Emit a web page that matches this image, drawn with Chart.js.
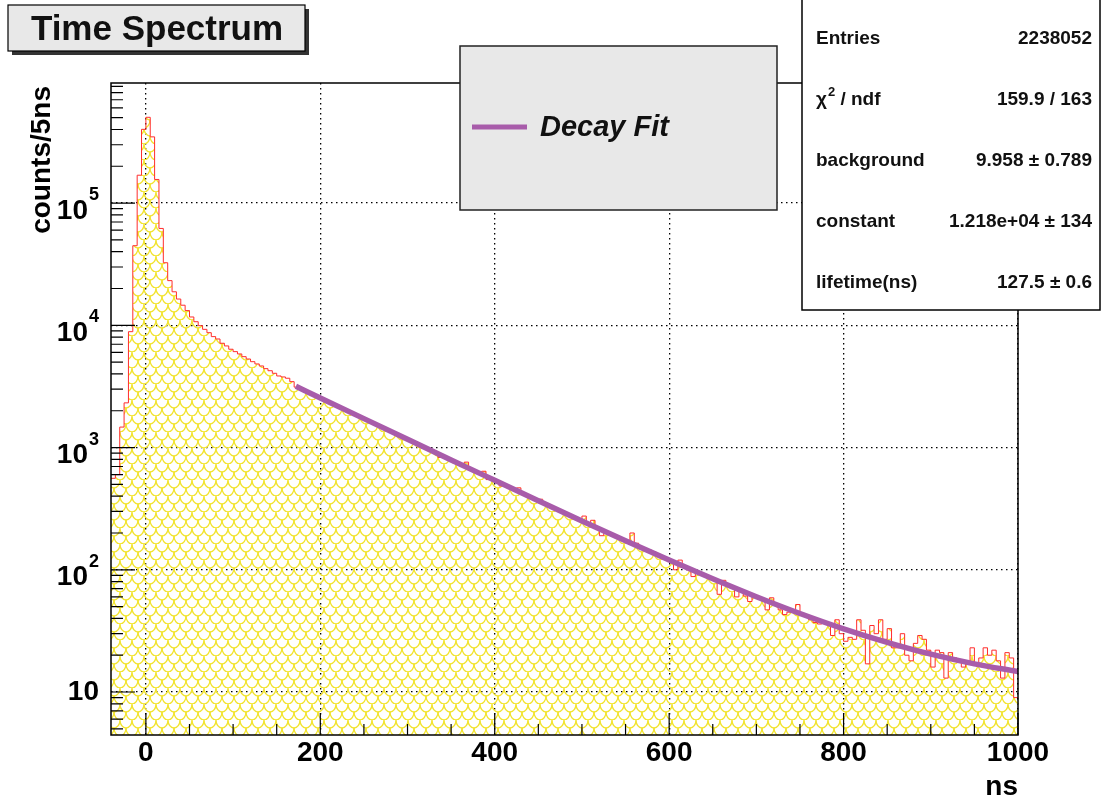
<!DOCTYPE html>
<html>
<head>
<meta charset="utf-8">
<script src="https://cdn.jsdelivr.net/npm/chart.js@4.4.1/dist/chart.umd.min.js"></script>
<style>
  html, body { margin: 0; padding: 0; background: #fff; }
  canvas { display: block; }
</style>
</head>
<body>
<canvas id="timeChart" width="1102" height="800"></canvas>
<script>
// Histogram: 5 ns bins starting at -40 ns (counts)
const BIN_START = -40;
const BIN_WIDTH = 5;
const COUNTS = [
    560, 600, 1470, 2320, 8870, 44800, 169000, 401000, 503000, 348000,
    156000, 62000, 32500, 23200, 18800, 16400, 14600, 13200, 11700, 10700,
    9930, 9270, 8700, 8080, 7730, 7130, 6780, 6370, 6090, 5830,
    5540, 5300, 5040, 4830, 4650, 4420, 4250, 4050, 3850, 3780,
    3690, 3460, 3120, 3010, 2890, 2790, 2680, 2580, 2480, 2390,
    2300, 2210, 2130, 2050, 1970, 1895, 1820, 1750, 1690, 1620,
    1560, 1500, 1445, 1390, 1335, 1285, 1235, 1188, 1143, 1100,
    1058, 1018, 978, 942, 900, 830, 838, 806, 775, 746,
    718, 760, 664, 639, 615, 640, 547, 548, 527, 485,
    488, 470, 460, 468, 418, 403, 388, 373, 378, 346,
    333, 320, 308, 297, 286, 275, 265, 255, 275, 236,
    254, 219, 190, 203, 196, 189, 182, 175, 169, 200,
    165, 151, 146, 145, 140, 134, 126, 121, 117, 100,
    120, 105, 101, 88, 95, 91, 88, 85, 82, 63,
    82, 74, 72, 60, 67, 61, 55, 61, 59, 57,
    47, 59, 52, 47, 43, 45, 46, 52, 44, 43,
    39, 37, 36, 37, 36, 29, 39, 30, 26, 28,
    27, 39, 32, 17, 35, 30, 39, 27, 33, 23,
    23, 30, 20, 18, 25, 29, 27, 22, 16, 22,
    21, 13, 21, 19, 18, 16, 17, 23, 17, 19,
    23, 20, 22, 18, 13, 21, 19, 9
];

// Decay fit curve, sampled off the plot
const FIT_T = [172, 200, 250, 300, 350, 400, 450, 500, 550, 600, 650, 700, 750, 800, 850, 900, 950, 1000];
const FIT_V = [3170, 2547, 1724, 1168, 792, 539, 367, 251, 173, 120, 84.4, 60.2, 43.9, 32.9, 25.5, 20.4, 17.0, 14.7];

const X_TICKS = [0, 200, 400, 600, 800, 1000];
const Y_TICKS = [10, 100, 1000, 10000, 100000];

const STAT_NAMES = ['Entries', 'χ² / ndf', 'background', 'constant', 'lifetime(ns)'];
const STAT_VALUES = ['2238052', '159.9 / 163', '9.958 ± 0.789', '1.218e+04 ± 134', '127.5 ± 0.6'];

const FONT = '"Liberation Sans", Arial, Helvetica, sans-serif';
const FIT_COLOR = 'rgb(168,92,170)';

// yellow fish-scale hatch like ROOT's fill style
function scalePattern(ctx) {
    const c = document.createElement('canvas');
    c.width = 12;
    c.height = 16;
    const g = c.getContext('2d');
    g.strokeStyle = 'rgb(242,228,50)';
    g.lineWidth = 1.4;
    const centers = [[6, 0], [6, 16], [0, 8], [12, 8]];
    centers.forEach(([cx, cy]) => {
        g.beginPath();
        g.ellipse(cx, cy, 6, 8, 0, 0, Math.PI);
        g.stroke();
    });
    return ctx.createPattern(c, 'repeat');
}

// text with "²" drawn as a small raised 2
function drawSupText(ctx, str, x, y, size) {
    const parts = str.split('²');
    let cx = x;
    parts.forEach((p, i) => {
        ctx.font = 'bold ' + size + 'px ' + FONT;
        ctx.fillText(p, cx, y);
        cx += ctx.measureText(p).width;
        if (i < parts.length - 1) {
            ctx.font = 'bold ' + Math.round(size * 0.7) + 'px ' + FONT;
            ctx.fillText('2', cx + 1, y - size * 0.4);
            cx += ctx.measureText('2').width + 1;
        }
    });
}

const rootDecor = {
    id: 'rootDecor',
    beforeDraw(chart) {
        const ctx = chart.ctx;
        ctx.save();
        ctx.fillStyle = '#fff';
        ctx.fillRect(0, 0, chart.width, chart.height);
        ctx.restore();
    },
    afterDatasetsDraw(chart) {
        const {ctx, chartArea: a, scales: {x, y}} = chart;
        ctx.save();
        ctx.strokeStyle = '#000';
        ctx.fillStyle = '#000';

        // frame
        ctx.lineWidth = 1.5;
        ctx.strokeRect(a.left, a.top, a.right - a.left, a.bottom - a.top);

        // x ticks (inside)
        ctx.lineWidth = 1.2;
        ctx.beginPath();
        for (let v = 0; v <= x.max; v += 50) {
            const px = x.getPixelForValue(v);
            const len = v % 200 === 0 ? 22 : 11;
            ctx.moveTo(px, a.bottom);
            ctx.lineTo(px, a.bottom - len);
        }
        // y ticks (inside, log)
        for (let e = 0; e <= 6; e++) {
            for (let m = 1; m <= 9; m++) {
                const v = m * Math.pow(10, e);
                if (v < y.min || v > y.max) continue;
                const py = y.getPixelForValue(v);
                const len = m === 1 ? 24 : 12;
                ctx.moveTo(a.left, py);
                ctx.lineTo(a.left + len, py);
            }
        }
        ctx.stroke();

        // x tick labels
        ctx.font = 'bold 28px ' + FONT;
        ctx.textAlign = 'center';
        ctx.textBaseline = 'middle';
        X_TICKS.forEach(v => ctx.fillText(String(v), x.getPixelForValue(v), 753));
        ctx.textAlign = 'right';
        ctx.fillText('ns', a.right, 787);

        // y tick labels with exponents
        Y_TICKS.forEach(v => {
            const py = y.getPixelForValue(v);
            const ex = Math.round(Math.log10(v));
            if (ex === 1) {
                ctx.font = 'bold 28px ' + FONT;
                ctx.fillText('10', 99, py);
            } else {
                ctx.font = 'bold 18px ' + FONT;
                const w = ctx.measureText(String(ex)).width;
                ctx.fillText(String(ex), 99, py - 8);
                ctx.font = 'bold 28px ' + FONT;
                ctx.fillText('10', 99 - w - 1, py + 8);
            }
        });

        // y title
        ctx.save();
        ctx.translate(42, 86);
        ctx.rotate(-Math.PI / 2);
        ctx.font = 'bold 28px ' + FONT;
        ctx.textAlign = 'right';
        ctx.textBaseline = 'middle';
        ctx.fillText('counts/5ns', 0, 0);
        ctx.restore();

        // legend box
        ctx.fillStyle = '#e8e8e8';
        ctx.fillRect(460, 46, 317, 164);
        ctx.strokeStyle = '#222';
        ctx.lineWidth = 1.5;
        ctx.strokeRect(460, 46, 317, 164);
        ctx.strokeStyle = FIT_COLOR;
        ctx.lineWidth = 5;
        ctx.beginPath();
        ctx.moveTo(472, 127);
        ctx.lineTo(527, 127);
        ctx.stroke();
        ctx.fillStyle = '#111';
        ctx.font = 'italic bold 29px ' + FONT;
        ctx.textAlign = 'left';
        ctx.fillText(chart.data.datasets[1].label, 540, 128);

        // stats box
        ctx.fillStyle = '#fff';
        ctx.fillRect(802, 0, 298, 310);
        ctx.strokeStyle = '#000';
        ctx.lineWidth = 1.5;
        ctx.strokeRect(802, -2, 298, 312);
        ctx.fillStyle = '#111';
        STAT_NAMES.forEach((name, i) => {
            const ry = 39 + 61 * i;
            ctx.textAlign = 'left';
            drawSupText(ctx, name, 816, ry, 19);
            ctx.font = 'bold 19px ' + FONT;
            ctx.textAlign = 'right';
            ctx.fillText(STAT_VALUES[i], 1092, ry);
        });

        // title box with shadow
        ctx.fillStyle = '#333';
        ctx.fillRect(12, 9, 297, 46);
        ctx.fillStyle = '#e8e8e8';
        ctx.fillRect(8, 5, 297, 46);
        ctx.strokeStyle = '#000';
        ctx.lineWidth = 1.2;
        ctx.strokeRect(8, 5, 297, 46);
        ctx.fillStyle = '#111';
        ctx.font = 'bold 35px ' + FONT;
        ctx.textAlign = 'center';
        ctx.fillText('Time Spectrum', 157, 30);

        ctx.restore();
    }
};

const histPoints = COUNTS.map((v, i) => ({x: BIN_START + i * BIN_WIDTH, y: v}));
histPoints.push({x: BIN_START + COUNTS.length * BIN_WIDTH, y: COUNTS[COUNTS.length - 1]});
const fitPoints = FIT_T.map((t, i) => ({x: t, y: FIT_V[i]}));

const canvas = document.getElementById('timeChart');
const ctx = canvas.getContext('2d');

new Chart(ctx, {
    type: 'line',
    data: {
        datasets: [{
            label: 'Time Spectrum',
            data: histPoints,
            order: 1,
            stepped: 'before',
            borderColor: 'rgb(255,45,45)',
            borderWidth: 1,
            backgroundColor: scalePattern(ctx),
            fill: 'start',
            pointRadius: 0
        }, {
            label: 'Decay Fit',
            data: fitPoints,
            order: 0,
            borderColor: FIT_COLOR,
            borderWidth: 5.5,
            cubicInterpolationMode: 'monotone',
            fill: false,
            pointRadius: 0
        }]
    },
    options: {
        responsive: false,
        animation: false,
        layout: {
            padding: {left: 0, right: 84, top: 83, bottom: 0}
        },
        scales: {
            x: {
                type: 'linear',
                min: -40,
                max: 1000,
                afterBuildTicks: scale => { scale.ticks = X_TICKS.map(v => ({value: v})); },
                afterFit: scale => { scale.height = 65; },
                ticks: {display: false},
                grid: {color: '#000', lineWidth: 1.3, drawTicks: false},
                border: {display: false, dash: [1.5, 3.5]}
            },
            y: {
                type: 'logarithmic',
                min: 4.45,
                max: 960000,
                afterBuildTicks: scale => { scale.ticks = Y_TICKS.map(v => ({value: v})); },
                afterFit: scale => { scale.width = 111; },
                ticks: {display: false},
                grid: {color: '#000', lineWidth: 1.3, drawTicks: false},
                border: {display: false, dash: [1.5, 3.5]}
            }
        },
        plugins: {
            legend: {display: false},
            tooltip: {enabled: false}
        }
    },
    plugins: [rootDecor]
});
</script>
</body>
</html>
